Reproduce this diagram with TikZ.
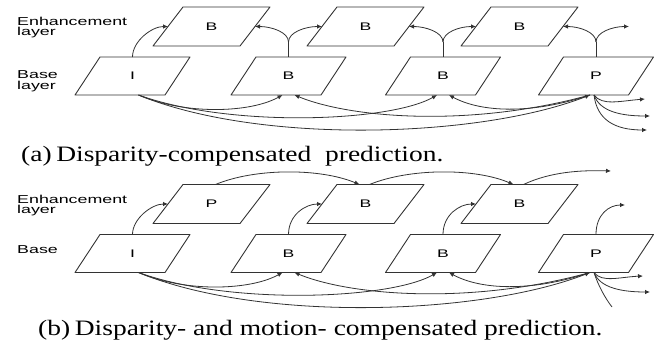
\documentclass[tikz,border=0pt]{standalone}
\usepackage{fontspec}
\setmainfont{Liberation Serif}
\newfontfamily\labfont{Liberation Sans}
\usetikzlibrary{arrows.meta}
\begin{document}
\begin{tikzpicture}[x=1pt,y=-1pt,
  frame/.style={draw=black!80, line width=0.9pt, line join=round},
  conn/.style={draw=black!80, line width=0.8pt, -{Latex[length=5pt,width=4.5pt]}},
  plainconn/.style={draw=black!80, line width=0.8pt},
  letter/.style={inner sep=0pt, font=\labfont\fontsize{11}{13}\selectfont},
  side/.style={inner sep=0pt, anchor=base west, font=\labfont\fontsize{11.5}{13}\selectfont},
  capt/.style={inner sep=0pt, anchor=west, font=\fontsize{22}{26}\selectfont}]
\useasboundingbox (0,0) rectangle (664,343);

% side labels
\node[side] (enha) at (17,25) {\scalebox{1.55}[1]{Enhancement}};
\node[side] (laya) at (17,35.5) {\scalebox{1.55}[1]{layer}};
\node[side] (basa) at (17,78) {\scalebox{1.55}[1]{Base}};
\node[side] (layb) at (17,89) {\scalebox{1.55}[1]{layer}};
\node[side] (enhb) at (17,203) {\scalebox{1.55}[1]{Enhancement}};
\node[side] (layc) at (17,213.5) {\scalebox{1.55}[1]{layer}};
\node[side] (basb) at (17,253) {\scalebox{1.55}[1]{Base}};

% frames (a)
\node[letter] (ea1) at (211.5,26.5) {\scalebox{1.6}[1]{B}};
\node[letter] (ea2) at (365.5,26.5) {\scalebox{1.6}[1]{B}};
\node[letter] (ea3) at (519.5,26.5) {\scalebox{1.6}[1]{B}};
\node[letter] (ia)  at (132.5,76) {\scalebox{1.6}[1]{I}};
\node[letter] (ba2) at (288.5,76) {\scalebox{1.6}[1]{B}};
\node[letter] (ba3) at (443,76) {\scalebox{1.6}[1]{B}};
\node[letter] (pa)  at (596,76) {\scalebox{1.6}[1]{P}};
% frames (b)
\node[letter] (eb1) at (211.5,204) {\scalebox{1.6}[1]{P}};
\node[letter] (eb2) at (365.5,204) {\scalebox{1.6}[1]{B}};
\node[letter] (eb3) at (519.5,204) {\scalebox{1.6}[1]{B}};
\node[letter] (ib)  at (132.5,253.5) {\scalebox{1.6}[1]{I}};
\node[letter] (bb2) at (288.5,253.5) {\scalebox{1.6}[1]{B}};
\node[letter] (bb3) at (443,253.5) {\scalebox{1.6}[1]{B}};
\node[letter] (pb)  at (596,253.5) {\scalebox{1.6}[1]{P}};

\foreach \n in {ea1,ea2,ea3,eb1,eb2,eb3}{
  \draw[frame] ([shift={(-58.5,19.5)}]\n.center) -- ([shift={(28.5,19.5)}]\n.center)
     -- ([shift={(58.5,-19.5)}]\n.center) -- ([shift={(-28.5,-19.5)}]\n.center) -- cycle;
  \coordinate (\n-l) at ([shift={(-43.5,0)}]\n.center);
  \coordinate (\n-r) at ([shift={(43.5,0)}]\n.center);
  \coordinate (\n-tl) at ([shift={(-6,-19.5)}]\n.center);
  \coordinate (\n-tr) at ([shift={(4,-19.5)}]\n.center);
}
\foreach \n in {ia,ba2,ba3,pa,ib,bb2,bb3,pb}{
  \draw[frame] ([shift={(-57.5,19)}]\n.center) -- ([shift={(32.5,19)}]\n.center)
     -- ([shift={(57.5,-19)}]\n.center) -- ([shift={(-32.5,-19)}]\n.center) -- cycle;
  \coordinate (\n-t) at ([shift={(0,-19)}]\n.center);
  \coordinate (\n-bl) at ([shift={(-6,19)}]\n.center);
  \coordinate (\n-br) at ([shift={(6,19)}]\n.center);
  \coordinate (\n-bo) at ([shift={(-2,19)}]\n.center);
}

% (a) upward connectors
\draw[conn] (ia-t) .. controls +(0,-16) and +(-16,0) .. (ea1-l);
\coordinate (ja2) at ([shift={(0,-15)}]ba2-t);
\coordinate (ja3) at ([shift={(0,-15)}]ba3-t);
\coordinate (ja4) at ([shift={(0,-15)}]pa-t);
\coordinate (oa0) at (629,26.5);
\draw[plainconn] (ba2-t) -- (ja2);
\draw[plainconn] (ba3-t) -- (ja3);
\draw[plainconn] (pa-t) -- (ja4);
\draw[conn] (ja2) .. controls +(0,-10) and +(16,0) .. (ea1-r);
\draw[conn] (ja2) .. controls +(0,-10) and +(-16,0) .. (ea2-l);
\draw[conn] (ja3) .. controls +(0,-10) and +(16,0) .. (ea2-r);
\draw[conn] (ja3) .. controls +(0,-10) and +(-16,0) .. (ea3-l);
\draw[conn] (ja4) .. controls +(0,-10) and +(16,0) .. (ea3-r);
\draw[conn] (ja4) .. controls +(0,-10) and +(-16,0) .. (oa0);

% (b) upward connectors
\coordinate (ob0) at (625,205);
\draw[conn] (ib-t) .. controls +(0,-16) and +(-16,0) .. (eb1-l);
\draw[conn] (bb2-t) .. controls +(0,-20) and +(-16,0) .. (eb2-l);
\draw[conn] (bb3-t) .. controls +(0,-20) and +(-16,0) .. (eb3-l);
\draw[conn] (pb-t) .. controls +(0,-20) and +(-16,0) .. (ob0);
% (b) enhancement arcs
\coordinate (ob4) at (611,171);
\draw[conn] (eb1-tr) .. controls (255,168) and (320,168) .. (eb2-tl);
\draw[conn] (eb2-tr) .. controls (410,168) and (475,168) .. (eb3-tl);
\draw[conn] (eb3-tr) .. controls (550,172) and (580,170) .. (ob4);

% bottom arcs
\foreach \p/\dy in {a/0,b/177.5}{
  \draw[conn] (i\p-br) .. controls (185,{115+\dy}) and (250,{113+\dy}) .. (b\p2-bl);
  \draw[conn] (i\p-br) .. controls (230,{128+\dy}) and (390,{122+\dy}) .. (b\p3-bl);
  \draw[conn] (i\p-br) .. controls (260,{145+\dy}) and (480,{138+\dy}) .. (p\p-bl);
  \draw[conn] (p\p-bl) .. controls (530,{115+\dy}) and (480,{112+\dy}) .. (b\p3-br);
  \draw[conn] (p\p-bl) .. controls (470,{128+\dy}) and (350,{118+\dy}) .. (b\p2-br);
}

% outgoing from P
\coordinate (oa1) at (645,99);
\coordinate (oa2) at (650,116);
\coordinate (oa3) at (647,130);
\draw[conn] (pa-bo) .. controls (602,106) and (620,101) .. (oa1);
\draw[conn] (pa-bo) .. controls (600,112) and (622,116) .. (oa2);
\draw[conn] (pa-bo) .. controls (597,120) and (615,130) .. (oa3);
\coordinate (ob1) at (643,276);
\coordinate (ob2) at (650,292);
\coordinate (ob3) at (612,307);
\draw[conn] (pb-bo) .. controls (602,283) and (620,277) .. (ob1);
\draw[conn] (pb-bo) .. controls (600,288) and (622,292) .. (ob2);
\draw[plainconn] (pb-bo) .. controls (598,285) and (605,298) .. (ob3);

% captions
\node[capt] (capa) at (21,156.5) {\scalebox{1.25}[1]{(a)\,Disparity-compensated\ \ prediction.}};
\node[capt] (capb) at (38,330) {\scalebox{1.25}[1]{(b)\,Disparity- and motion- compensated prediction.}};
\end{tikzpicture}
\end{document}
